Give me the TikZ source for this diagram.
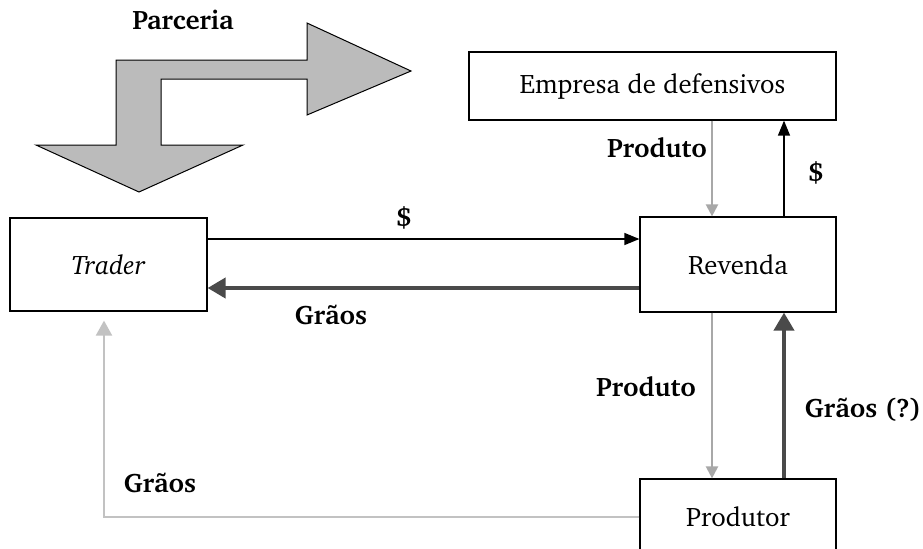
\documentclass[tikz,border=0pt]{standalone}
\usepackage[T1]{fontenc}
\usepackage{charter}
\usetikzlibrary{positioning, arrows.meta}
\definecolor{setafill}{HTML}{BBBBBB}
\definecolor{graoescuro}{HTML}{4A4A4A}
\definecolor{produtocinza}{HTML}{A8A8A8}
\definecolor{graoclaro}{HTML}{C2C2C2}
\tikzset{
	agente/.style={
		draw,
		line width=0.6pt,
		align=center,
		inner sep=0pt,
		font=\fontsize{13.4}{15}\selectfont
	},
	labe/.style={
		inner sep=0pt,
		font=\fontsize{13.4}{15}\selectfont\bfseries
	},
	dinheiro/.style={
		line width=0.65pt,
		-{Triangle[length=7.5pt, width=6pt]}
	},
	graoforte/.style={
		draw=graoescuro,
		line width=2pt,
		-{Triangle[length=9pt, width=10pt]}
	},
	produtoseta/.style={
		draw=produtocinza,
		line width=1.1pt,
		-{Triangle[length=6pt, width=6pt]}
	},
	graofraco/.style={
		draw=graoclaro,
		line width=1.1pt,
		-{Triangle[length=7.5pt, width=8pt]}
	}
}

\begin{document}
\begin{tikzpicture}[x=0.5pt, y=-0.5pt]
	\useasboundingbox (0,0) rectangle (923,548);
	\clip (0,0) rectangle (923,548);
	
	% parceria
	\draw[fill=setafill, line width=0.5pt]
		(116,60) -- (307,60) -- (307,23) -- (411,71) -- (307,115) -- (307,79)
		-- (161,79) -- (161,145) -- (243,145) -- (139,192) -- (36,145) -- (116,145) -- cycle;
	\node (parceria)[labe] at (183,20) {Parceria};
	
	% agentes
	\node (emp)[agente, minimum width=183.5pt, minimum height=34pt] at (652.5,86) {Empresa de defensivos};
	\node (trader)[agente, minimum width=98.5pt, minimum height=46.5pt] at (108.5,264.5) {\itshape Trader};
	\node (revenda)[agente, minimum width=98pt, minimum height=47.5pt] at (738,264.5) {Revenda};
	\node (produtor)[agente, minimum width=98pt, minimum height=38pt] at (738,517) {Produtor};
	
	\coordinate (r1) at ([xshift=-13pt]revenda.north);
	\coordinate (r2) at ([xshift=23pt]revenda.north);
	\coordinate (r3) at ([xshift=-13pt]revenda.south);
	\coordinate (r4) at ([xshift=23pt]revenda.south);
	\coordinate (t1) at ([xshift=-2.25pt, yshift=-4.5pt]trader.south);
	
	% trader - revenda
	\draw[dinheiro] ([yshift=12.75pt]trader.east) to ([yshift=12.75pt]trader.east -| revenda.west);
	\draw[graoforte] ([yshift=-11.75pt]revenda.west) to ([yshift=-11.75pt]revenda.west -| trader.east);
	\node (din1)[labe] at (404,218) {\$};
	\node (grao1)[labe] at (331,315) {Gr\~{a}os};
	
	% empresa - revenda
	\draw[produtoseta] (r1 |- emp.south) to (r1);
	\draw[dinheiro] (r2) to (r2 |- emp.south);
	\node (prod1)[labe] at (657,148) {Produto};
	\node (din2)[labe] at (816,173) {\$};
	
	% revenda - produtor
	\draw[produtoseta] (r3) to (r3 |- produtor.north);
	\draw[graoforte] (r4 |- produtor.north) to (r4);
	\node (prod2)[labe] at (646,387) {Produto};
	\node (grao2)[labe] at (863,410) {Gr\~{a}os (?)};
	
	% produtor - trader
	\draw[graofraco] (produtor.west) -| (t1);
	\node (grao3)[labe] at (160,483) {Gr\~{a}os};
	
\end{tikzpicture}
\end{document}
